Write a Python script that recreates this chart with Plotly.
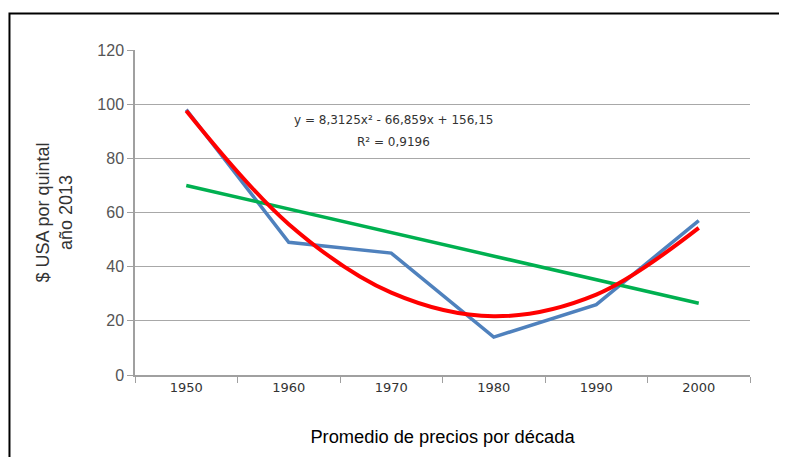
import plotly.graph_objects as go

decades = ["1950", "1960", "1970", "1980", "1990", "2000"]
precio = [98, 49, 45, 14, 26, 57]
tendencia_lineal = [70, 61.3, 52.6, 43.9, 35.2, 26.5]
tendencia_poli = [97.6, 55.7, 30.4, 21.7, 29.7, 54.3]
y_ticks = [0, 20, 40, 60, 80, 100, 120]

fig = go.Figure()
fig.add_trace(go.Scatter(x=decades, y=precio, mode="lines",
                         line=dict(color="#4F81BD", width=3.5), showlegend=False))
fig.add_trace(go.Scatter(x=decades, y=tendencia_lineal, mode="lines",
                         line=dict(color="#00B050", width=3.5), showlegend=False))
fig.add_trace(go.Scatter(x=decades, y=tendencia_poli, mode="lines",
                         line=dict(color="#FF0000", width=4, shape="spline", smoothing=1.0),
                         showlegend=False))

fig.update_layout(
    width=779, height=449,
    margin=dict(l=127, r=37, t=42, b=82, autoexpand=False),
    paper_bgcolor="white", plot_bgcolor="white",
    xaxis=dict(type="category", range=[-0.5, 5.5], tickson="boundaries",
               ticks="outside", ticklen=6, tickcolor="#a0a0a0", automargin=False,
               showline=True, linecolor="#a0a0a0", linewidth=1.5,
               showgrid=False, zeroline=False,
               tickfont=dict(family="DejaVu Sans", size=13, color="#333333"),
               title=dict(text="Promedio de precios por década", standoff=36,
                          font=dict(family="Liberation Sans", size=18.3, color="black"))),
    yaxis=dict(range=[0, 120], tickvals=y_ticks, ticks="outside", ticklen=6,
               tickcolor="#a0a0a0", showline=True, linecolor="#a0a0a0", linewidth=1.5,
               automargin=False,
               showgrid=True, gridcolor="#a8a8a8", gridwidth=1.2, zeroline=False,
               tickfont=dict(family="Liberation Sans", size=16, color="#555555"),
               title=dict(text="$ USA por quintal<br>año 2013", standoff=20,
                          font=dict(family="Liberation Sans", size=18, color="#333333"))),
    shapes=[dict(type="rect", xref="paper", yref="paper",
                 x0=-0.2041, x1=1.1, y0=-0.30, y1=1.1123,
                 line=dict(color="black", width=2), fillcolor="rgba(0,0,0,0)", layer="below")],
    annotations=[
        dict(x=2.02, y=94, xref="x", yref="y", text="y = 8,3125x² - 66,859x + 156,15",
             showarrow=False, font=dict(family="DejaVu Sans", size=12, color="#333333")),
        dict(x=2.02, y=86.2, xref="x", yref="y", text="R² = 0,9196",
             showarrow=False, font=dict(family="DejaVu Sans", size=12, color="#333333")),
    ],
)

fig.write_html("out.html")
